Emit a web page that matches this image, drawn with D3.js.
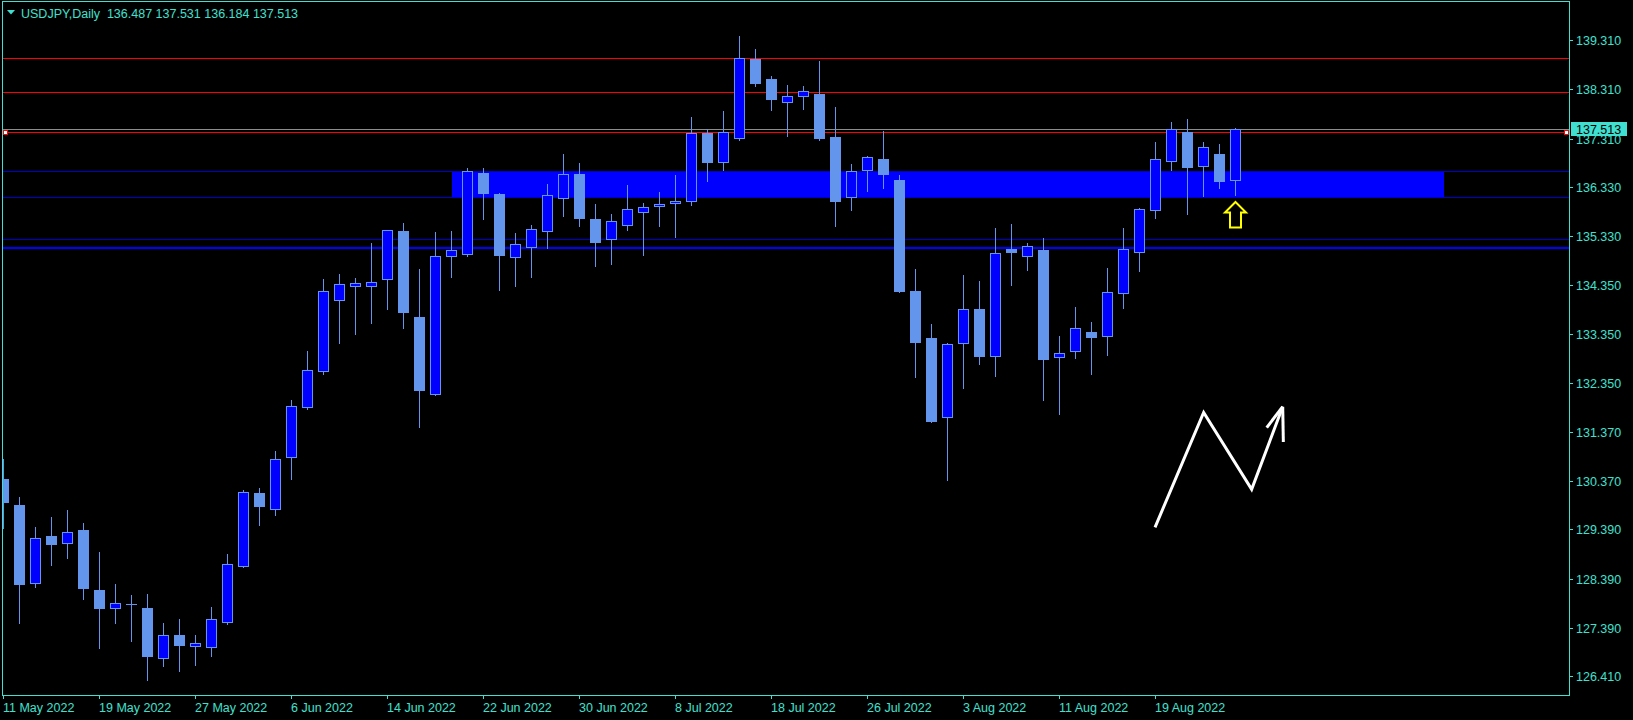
<!DOCTYPE html>
<html>
<head>
<meta charset="utf-8">
<script src="https://cdn.jsdelivr.net/npm/d3@7"></script>
<style>
  html, body { margin: 0; padding: 0; background: #000; overflow: hidden; }
  svg { display: block; }
  text { font-family: "Liberation Sans", Arial, sans-serif; }
</style>
</head>
<body>
<svg id="chart" width="1633" height="720"></svg>
<script>
// ---------------- DATA ----------------
const symbolTitle = "USDJPY,Daily";
const lastOHLC = [136.487, 137.531, 136.184, 137.513];

const dates = [
  "2022-05-11","2022-05-12","2022-05-13","2022-05-16","2022-05-17","2022-05-18","2022-05-19","2022-05-20",
  "2022-05-23","2022-05-24","2022-05-25","2022-05-26","2022-05-27","2022-05-30","2022-05-31",
  "2022-06-01","2022-06-02","2022-06-03","2022-06-06","2022-06-07","2022-06-08","2022-06-09","2022-06-10",
  "2022-06-13","2022-06-14","2022-06-15","2022-06-16","2022-06-17","2022-06-20","2022-06-21","2022-06-22",
  "2022-06-23","2022-06-24","2022-06-27","2022-06-28","2022-06-29","2022-06-30",
  "2022-07-01","2022-07-04","2022-07-05","2022-07-06","2022-07-07","2022-07-08","2022-07-11","2022-07-12",
  "2022-07-13","2022-07-14","2022-07-15","2022-07-18","2022-07-19","2022-07-20","2022-07-21","2022-07-22",
  "2022-07-25","2022-07-26","2022-07-27","2022-07-28","2022-07-29",
  "2022-08-01","2022-08-02","2022-08-03","2022-08-04","2022-08-05","2022-08-08","2022-08-09","2022-08-10",
  "2022-08-11","2022-08-12","2022-08-15","2022-08-16","2022-08-17","2022-08-18","2022-08-19","2022-08-22",
  "2022-08-23","2022-08-24","2022-08-25","2022-08-26"
];

const opens = [
  130.42,129.89,128.32,129.26,129.13,129.39,128.17,127.80,127.88,127.80,126.80,127.26,127.04,127.02,127.53,
  128.66,130.13,129.82,130.86,131.87,132.60,134.04,134.33,134.33,134.47,135.45,133.70,132.14,134.93,134.99,
  136.62,136.20,134.91,135.12,135.44,136.11,136.60,135.68,135.29,135.56,135.83,135.95,136.01,136.05,137.43,
  136.84,137.33,138.93,138.53,138.06,138.18,138.22,137.35,136.14,136.69,136.91,136.48,134.24,133.27,131.68,
  133.17,133.86,132.91,135.08,134.93,135.06,132.89,133.01,133.39,133.31,134.18,135.03,135.87,136.86,137.45,
  136.76,137.01,136.487
];
const highs = [
  130.82,130.05,129.45,129.65,129.79,129.53,128.94,128.29,128.07,128.09,127.50,127.58,127.26,127.82,128.90,
  130.20,130.24,130.99,132.02,133.01,134.47,134.57,134.49,135.20,135.47,135.61,134.68,135.43,135.45,136.72,
  136.72,136.22,135.41,135.57,136.40,137.01,136.82,135.99,135.79,136.38,136.01,136.24,136.58,137.75,137.52,
  137.88,139.40,139.14,138.59,138.41,138.39,138.89,137.96,136.80,136.97,137.47,136.58,134.68,133.56,133.18,
  134.55,134.43,135.51,135.59,135.20,135.30,133.32,133.91,133.60,134.70,135.51,135.91,137.25,137.66,137.72,
  137.25,137.21,137.531
];
const lows = [
  129.43,127.51,128.24,128.68,128.82,127.99,127.00,127.51,127.14,126.34,126.63,126.53,126.65,126.83,127.48,
  128.64,129.49,129.68,130.42,131.84,132.55,133.18,133.36,133.59,133.87,133.49,131.48,132.12,134.52,134.93,
  135.68,134.26,134.34,134.52,135.11,135.76,135.55,134.74,134.78,135.47,134.95,135.55,135.33,135.98,136.47,
  136.68,137.30,138.39,137.89,137.38,137.91,137.30,135.55,135.88,136.26,136.32,134.20,132.49,131.58,130.40,
  132.27,132.76,132.51,134.36,134.66,132.03,131.73,132.88,132.55,132.94,133.89,134.64,135.72,136.69,135.80,
  136.16,136.32,136.184
];
const closes = [
  129.96,128.30,129.22,129.11,129.34,128.22,127.81,127.91,127.88,126.84,127.25,127.05,127.09,127.59,128.69,
  130.15,129.88,130.82,131.89,132.62,134.24,134.37,134.39,134.41,135.46,133.81,132.23,134.93,135.06,136.66,
  136.22,134.97,135.18,135.48,136.17,136.60,135.72,135.23,135.64,135.89,135.93,135.99,136.05,137.43,136.85,
  137.45,138.95,138.45,138.13,138.18,138.28,137.34,136.06,136.66,136.94,136.60,134.23,133.20,131.60,133.15,
  133.86,132.92,135.01,135.03,135.14,132.86,132.97,133.49,133.30,134.22,135.08,135.89,136.90,137.51,136.75,
  137.14,136.47,137.513
];

const yTickValues = [139.310,138.310,137.310,136.330,135.330,134.350,133.350,132.350,131.370,130.370,129.390,128.390,127.390,126.410];
const xTickIndices = [0,6,12,18,24,30,36,42,48,54,60,66,72];

// horizontal levels drawn on the chart
const redLevels = [138.947, 138.263];
const markedRedLevel = 137.447;
const bidLevel = 137.513;
const thinBlueLevels = [136.657, 136.125, 135.284];
const thickBlueLevel = 135.102;
// blue zone rectangle: [startIndex, endIndex, lowPrice, highPrice]
const zoneStart = 28, zoneEnd = 90, zoneLow = 136.125, zoneHigh = 136.657;
// white zig-zag arrow, in (bar index, price)
const zigIdx   = [71.97, 75.01, 78.01, 79.95];
const zigPrice = [129.44, 131.77, 130.21, 131.885];
const zigHeadIdx   = [78.95, 79.99];
const zigHeadPrice = [131.46, 131.169];
// yellow up arrow anchored under last bar
const upArrowIdx = 77, upArrowPrice = 136.034;

// ---------------- LAYOUT ----------------
const W = 1633, H = 720;
const plot = {left: 2.5, top: 1.5, right: 1569.5, bottom: 695.5};
const axisColor = "#40E0D0";
const wickColor = "#6495ED";
const bullFill = "#0000FF";
const bearFill = "#6495ED";

const svg = d3.select("#chart");
svg.append("rect").attr("width", W).attr("height", H).attr("fill", "#000");

const x = d3.scaleLinear().domain([0, 77]).range([3.5, 1235.5]);
const y = d3.scaleLinear().domain([126.41, 139.31]).range([676.8, 40.4]);
const cy = v => Math.floor(y(v)) + 0.5;
const fmtDate = d3.timeFormat("%-d %b %Y");
const parse = d3.timeParse("%Y-%m-%d");

const defs = svg.append("defs");
defs.append("clipPath").attr("id", "clip")
  .append("rect").attr("x", 3).attr("y", 2).attr("width", 1566).attr("height", 693);

const g = svg.append("g").attr("clip-path", "url(#clip)");

// zone rectangle
g.append("rect")
  .attr("x", Math.round(x(zoneStart)))
  .attr("y", Math.round(y(zoneHigh)))
  .attr("width", Math.round(x(zoneEnd)) - Math.round(x(zoneStart)))
  .attr("height", Math.round(y(zoneLow)) - Math.round(y(zoneHigh)))
  .attr("fill", "#0000FF");

// horizontal lines
g.selectAll("line.thinblue").data(thinBlueLevels).join("line")
  .attr("x1", 0).attr("x2", 1570).attr("y1", d => cy(d)).attr("y2", d => cy(d))
  .attr("stroke", "#0000CD").attr("stroke-width", 1);
g.append("line").attr("x1", 0).attr("x2", 1570)
  .attr("y1", Math.round(y(thickBlueLevel))).attr("y2", Math.round(y(thickBlueLevel)))
  .attr("stroke", "#0000FF").attr("stroke-width", 2);
g.selectAll("line.red").data(redLevels).join("line")
  .attr("x1", 0).attr("x2", 1570).attr("y1", d => cy(d)).attr("y2", d => cy(d))
  .attr("stroke", "#FF0000").attr("stroke-width", 1);
g.append("line").attr("x1", 0).attr("x2", 1570)
  .attr("y1", cy(bidLevel)).attr("y2", cy(bidLevel))
  .attr("stroke", "#8C8C8C").attr("stroke-width", 1);
g.append("line").attr("x1", 0).attr("x2", 1570)
  .attr("y1", cy(markedRedLevel)).attr("y2", cy(markedRedLevel))
  .attr("stroke", "#FF0000").attr("stroke-width", 1);

// candles
const bars = d3.range(dates.length).map(i => ({i, o: opens[i], h: highs[i], l: lows[i], c: closes[i]}));
const cg = g.append("g");
bars.forEach(d => {
  const xc = x(d.i);
  cg.append("line")
    .attr("x1", xc).attr("x2", xc)
    .attr("y1", Math.round(y(d.h))).attr("y2", Math.round(y(d.l)) + 1)
    .attr("stroke", wickColor).attr("stroke-width", 1);
  const top = Math.round(y(Math.max(d.o, d.c)));
  const bot = Math.round(y(Math.min(d.o, d.c)));
  if (bot - top < 1) {
    cg.append("line").attr("x1", xc - 5.5).attr("x2", xc + 5.5)
      .attr("y1", top + 0.5).attr("y2", top + 0.5)
      .attr("stroke", wickColor).attr("stroke-width", 1);
  } else {
    cg.append("rect")
      .attr("x", xc - 5).attr("y", top + 0.5)
      .attr("width", 10).attr("height", bot - top)
      .attr("fill", d.c > d.o ? bullFill : bearFill)
      .attr("stroke", wickColor).attr("stroke-width", 1);
  }
});

// markers on marked red line
[5.5, 1566.5].forEach(mx => {
  svg.append("rect").attr("x", mx - 2).attr("y", cy(markedRedLevel) - 2)
    .attr("width", 4).attr("height", 4)
    .attr("fill", "#FFFFFF").attr("stroke", "#FF0000").attr("stroke-width", 1);
});

// white zig-zag arrow
const zig = d3.line().x(d => x(d[0])).y(d => y(d[1]));
g.append("path").datum(zigIdx.map((v, k) => [v, zigPrice[k]]))
  .attr("d", zig).attr("fill", "none").attr("stroke", "#FFFFFF")
  .attr("stroke-width", 3).attr("stroke-linejoin", "miter");
zigHeadIdx.forEach((v, k) => {
  g.append("line")
    .attr("x1", x(zigIdx[3])).attr("y1", y(zigPrice[3]))
    .attr("x2", x(v)).attr("y2", y(zigHeadPrice[k]))
    .attr("stroke", "#FFFFFF").attr("stroke-width", 3);
});

// yellow hollow up arrow
const ax = x(upArrowIdx), ay = y(upArrowPrice);
g.append("path")
  .attr("d", `M${ax},${ay} L${ax + 10.5},${ay + 10.5} L${ax + 5.5},${ay + 10.5} L${ax + 5.5},${ay + 25.5} L${ax - 5.5},${ay + 25.5} L${ax - 5.5},${ay + 10.5} L${ax - 10.5},${ay + 10.5} Z`)
  .attr("fill", "none").attr("stroke", "#FFFF00").attr("stroke-width", 2)
  .attr("stroke-linejoin", "miter");

// frame
svg.append("rect")
  .attr("x", plot.left).attr("y", plot.top)
  .attr("width", plot.right - plot.left).attr("height", plot.bottom - plot.top)
  .attr("fill", "none").attr("stroke", axisColor).attr("stroke-width", 1);

// y axis ticks and labels
const ya = svg.append("g");
yTickValues.forEach(v => {
  const ty = cy(v);
  ya.append("line").attr("x1", 1570).attr("x2", 1573).attr("y1", ty).attr("y2", ty)
    .attr("stroke", axisColor).attr("stroke-width", 1);
  ya.append("text").attr("x", 1576).attr("y", ty).attr("dy", "0.36em")
    .attr("fill", axisColor).attr("font-size", "12.5px").text(v.toFixed(3));
});

// current price label
const by = y(bidLevel);
svg.append("rect").attr("x", 1571).attr("y", Math.round(by) - 7)
  .attr("width", 56).attr("height", 14).attr("fill", "#40E0D0");
svg.append("text").attr("x", 1576).attr("y", by).attr("dy", "0.36em")
  .attr("fill", "#000").attr("font-size", "12.5px").text(bidLevel.toFixed(3));

// x axis ticks and labels
const xa = svg.append("g");
xTickIndices.forEach(i => {
  const tx = Math.floor(x(i)) + 0.5;
  xa.append("line").attr("x1", tx).attr("x2", tx).attr("y1", 696).attr("y2", 699)
    .attr("stroke", axisColor).attr("stroke-width", 1);
  xa.append("text").attr("x", tx - 0.5).attr("y", 712)
    .attr("fill", axisColor).attr("font-size", "12.5px")
    .text(fmtDate(parse(dates[i])));
});

// header
svg.append("path").attr("d", "M7,10 L15,10 L11,14.5 Z").attr("fill", axisColor);
svg.append("text").attr("x", 21).attr("y", 17.5)
  .attr("fill", axisColor).attr("font-size", "12.5px").attr("xml:space", "preserve")
  .text(symbolTitle + "  " + lastOHLC.map(v => v.toFixed(3)).join(" "));
</script>
</body>
</html>
